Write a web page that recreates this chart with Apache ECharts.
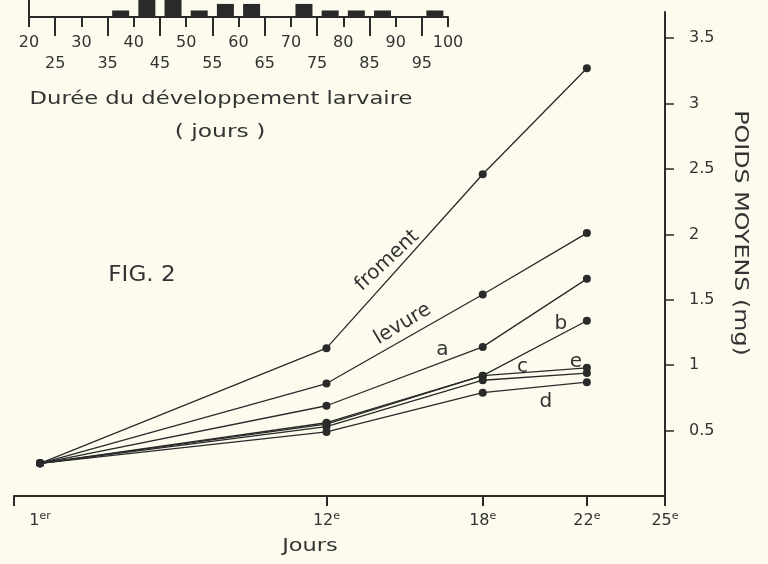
<!DOCTYPE html>
<html>
<head>
<meta charset="utf-8">
<script src="https://cdn.jsdelivr.net/npm/echarts@6/dist/echarts.min.js"></script>
<style>
  html, body { margin: 0; padding: 0; background: #fcfbee; }
  #chart { width: 768px; height: 564px; }
</style>
</head>
<body>
<div id="chart"></div>
<script>
// ---- Data ----
const days = [1, 12, 18, 22];
const froment = [0.25, 1.13, 2.46, 3.27];
const levure  = [0.25, 0.86, 1.54, 2.01];
const serieA  = [0.25, 0.69, 1.14, 1.66];
const serieB  = [0.25, 0.56, 0.92, 1.34];
const serieC  = [0.25, 0.55, 0.92, 0.98];
const serieE  = [0.25, 0.53, 0.885, 0.94];
const serieD  = [0.25, 0.49, 0.79, 0.87];

const dayTicks  = [0, 12, 18, 22, 25];
const dayLabels = [1, 12, 18, 22, 25];
const weightTicks = [0.5, 1, 1.5, 2, 2.5, 3, 3.5];

// Histogram: durée du développement larvaire (jours)
const histBins   = [37.5, 42.5, 47.5, 52.5, 57.5, 62.5, 72.5, 77.5, 82.5, 87.5, 97.5];
const histCounts = [1, 4, 4, 1, 2, 2, 2, 1, 1, 1, 1];
const histMajorTicks = [20, 30, 40, 50, 60, 70, 80, 90, 100];
const histMinorTicks = [25, 35, 45, 55, 65, 75, 85, 95];

// Curve annotations (data coordinates)
const annotNames = ['froment', 'levure', 'a', 'b', 'c', 'e', 'd'];
const annotX     = [14.33, 14.92, 16.45, 21.0, 19.53, 21.58, 20.42];
const annotY     = [1.80, 1.315, 1.115, 1.32, 0.987, 1.025, 0.72];
const annotRot   = [43, 31, 0, 0, 0, 0, 0];

// ---- Chart ----
const ink = '#2a2a2a';
const txt = '#333333';
const fontFam = '"DejaVu Sans", sans-serif';
const chart = echarts.init(document.getElementById('chart'), null, { renderer: 'canvas' });

const curves = [froment, levure, serieA, serieB, serieC, serieE, serieD];
const lineSeries = curves.map((vals, k) => ({
  type: 'line',
  name: annotNames[k],
  xAxisIndex: 0, yAxisIndex: 0,
  data: days.map((d, i) => [d, vals[i]]),
  symbol: 'circle',
  symbolSize: 8,
  itemStyle: { color: ink },
  lineStyle: { color: ink, width: 1.3 },
  z: 3
}));

const option = {
  backgroundColor: '#fcfbee',
  animation: false,
  textStyle: { fontFamily: fontFam, color: txt },
  grid: [
    { left: 14, right: 103, top: 12, bottom: 68 },
    { left: 29, right: 320, top: 0, bottom: 547 }
  ],
  xAxis: [
    {
      type: 'value', gridIndex: 0, position: 'bottom', min: 0, max: 25,
      axisLine: { show: true, onZero: false, lineStyle: { color: ink, width: 2 } },
      axisTick: { show: true, customValues: dayTicks, length: 10, lineStyle: { color: ink, width: 2 } },
      axisLabel: {
        customValues: dayLabels, margin: 15, color: txt,
        formatter: v => '{n|' + v + '}{s|' + (v === 1 ? 'er' : 'e') + '}',
        rich: {
          n: { fontSize: 16, fontFamily: fontFam, color: txt, lineHeight: 20 },
          s: { fontSize: 11, fontFamily: fontFam, color: txt, verticalAlign: 'top', lineHeight: 12 }
        }
      },
      splitLine: { show: false }
    },
    {
      type: 'value', gridIndex: 1, position: 'bottom', min: 20, max: 100,
      axisLine: { show: true, onZero: false, lineStyle: { color: ink, width: 2 } },
      axisTick: { show: true, customValues: histMajorTicks, length: 10, lineStyle: { color: ink, width: 2 } },
      axisLabel: { customValues: histMajorTicks, margin: 18, fontSize: 16, color: txt, fontFamily: fontFam },
      splitLine: { show: false }
    },
    {
      type: 'value', gridIndex: 1, position: 'bottom', min: 20, max: 100,
      axisLine: { show: false, onZero: false },
      axisTick: { show: true, customValues: histMinorTicks, length: 19, lineStyle: { color: ink, width: 2 } },
      axisLabel: { customValues: histMinorTicks, margin: 39, fontSize: 16, color: txt, fontFamily: fontFam },
      splitLine: { show: false }
    }
  ],
  yAxis: [
    {
      type: 'value', gridIndex: 0, position: 'right', min: 0, max: 3.7,
      axisLine: { show: true, onZero: false, lineStyle: { color: ink, width: 2 } },
      axisTick: { show: true, customValues: weightTicks, length: 9, lineStyle: { color: ink, width: 1.5 } },
      axisLabel: { customValues: weightTicks, margin: 24, fontSize: 16, color: txt, fontFamily: fontFam },
      splitLine: { show: false }
    },
    {
      type: 'value', gridIndex: 1, position: 'left', min: 0, max: 2.6,
      axisLine: { show: true, onZero: false, lineStyle: { color: ink, width: 2 } },
      axisTick: { show: false },
      axisLabel: { show: false },
      splitLine: { show: false }
    }
  ],
  series: lineSeries.concat([
    {
      type: 'bar',
      xAxisIndex: 1, yAxisIndex: 1,
      data: histBins.map((b, i) => [b, histCounts[i]]),
      barWidth: 17,
      itemStyle: { color: ink },
      clip: true
    },
    {
      type: 'scatter',
      xAxisIndex: 0, yAxisIndex: 0,
      symbolSize: 0,
      itemStyle: { opacity: 1, color: ink },
      data: annotNames.map((n, i) => ({
        name: n,
        value: [annotX[i], annotY[i]],
        label: { rotate: annotRot[i], fontSize: 20, color: txt }
      })),
      label: {
        show: true, position: 'inside', formatter: '{b}',
        color: txt, fontFamily: fontFam, opacity: 1
      },
      z: 4
    }
  ]),
  graphic: [
    { type: 'text', x: 221, y: 99, scaleX: 1.26,
      style: { text: 'Durée du développement larvaire', fontSize: 18, fontFamily: fontFam, fill: txt, align: 'center', verticalAlign: 'middle' } },
    { type: 'text', x: 220, y: 132, scaleX: 1.3,
      style: { text: '( jours )', fontSize: 18, fontFamily: fontFam, fill: txt, align: 'center', verticalAlign: 'middle' } },
    { type: 'text', x: 142, y: 275, scaleX: 1.05,
      style: { text: 'FIG. 2', fontSize: 22, fontFamily: fontFam, fill: txt, align: 'center', verticalAlign: 'middle' } },
    { type: 'text', x: 310, y: 546, scaleX: 1.25,
      style: { text: 'Jours', fontSize: 18, fontFamily: fontFam, fill: txt, align: 'center', verticalAlign: 'middle' } },
    { type: 'text', x: 740, y: 233, rotation: -Math.PI / 2, scaleX: 1.25,
      style: { text: 'POIDS MOYENS (mg)', fontSize: 19, fontFamily: fontFam, fill: txt, align: 'center', verticalAlign: 'middle' } }
  ]
};
chart.setOption(option);
</script>
</body>
</html>
